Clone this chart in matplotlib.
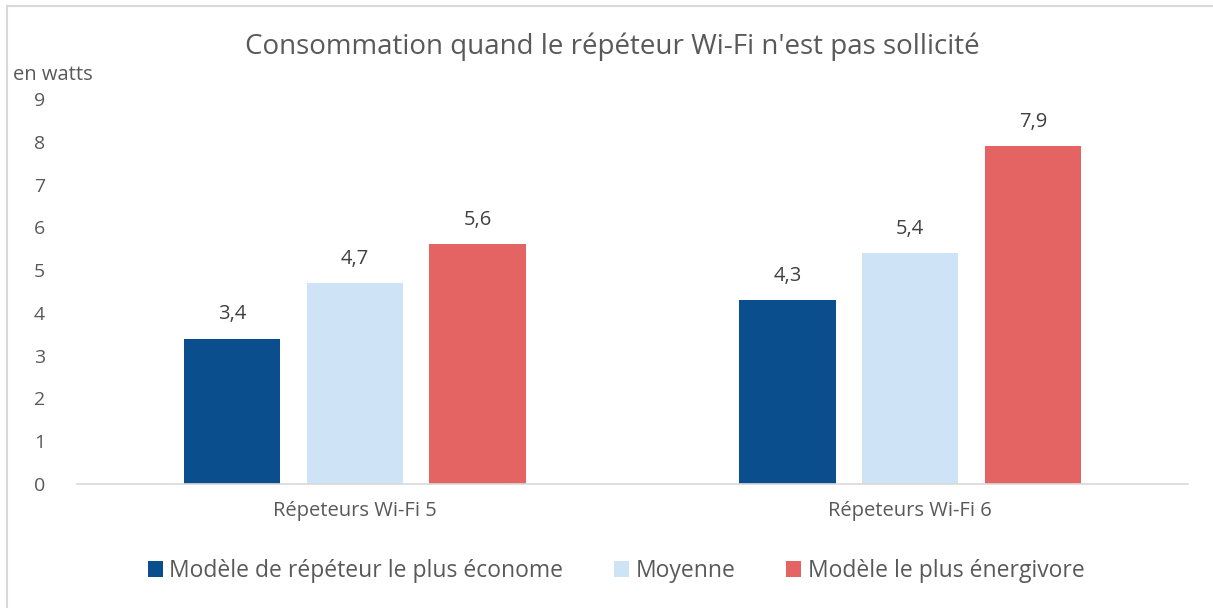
import matplotlib.pyplot as plt
import numpy as np
from matplotlib.lines import Line2D

plt.rcParams['font.family'] = ['Open Sans', 'DejaVu Sans']

categories = ['Répeteurs Wi-Fi 5', 'Répeteurs Wi-Fi 6']
series_names = ['Modèle de répéteur le plus économe', 'Moyenne',
                'Modèle le plus énergivore']
econome = [3.4, 4.3]
moyenne = [4.7, 5.4]
energivore = [5.6, 7.9]
colors = ['#0B4E8E', '#CFE3F6', '#E46464']
text_grey = '#595959'

W, H = 1213, 608
fig = plt.figure(figsize=(W / 100, H / 100), dpi=100)
ax = fig.add_axes([77 / W, 1 - 484 / H, (1188 - 77) / W, (484 - 99) / H])

x = np.arange(len(categories))
step = 0.221
width = 0.173
for i, (vals, name) in enumerate(zip([econome, moyenne, energivore], series_names)):
    bars = ax.bar(x + (i - 1) * step, vals, width, color=colors[i], label=name)
    for b, v in zip(bars, vals):
        ax.text(b.get_x() + b.get_width() / 2, v + 0.33, ('%.1f' % v).replace('.', ','),
                ha='center', va='bottom', fontsize=14.5, color='#404040')

ax.set_xlim(-0.5, 1.5)
ax.set_ylim(0, 9)
ax.set_yticks(range(10))
ax.set_xticks(x)
ax.set_xticklabels(categories)
ax.tick_params(axis='both', length=0, labelsize=14, labelcolor=text_grey)
ax.tick_params(axis='x', labelsize=14.5)
ax.tick_params(axis='y', pad=23)
ax.tick_params(axis='x', pad=12)
for s in ['top', 'right', 'left']:
    ax.spines[s].set_visible(False)
ax.spines['bottom'].set_color('#D9D9D9')
ax.spines['bottom'].set_linewidth(1.2)

fig.text(612 / W, 1 - 47 / H, "Consommation quand le répéteur Wi-Fi n'est pas sollicité",
         ha='center', va='center', fontsize=20, color=text_grey)
fig.text(13 / W, 1 - 75 / H, 'en watts', ha='left', va='center', fontsize=14.5,
         color=text_grey)

fig.legend(loc='center', bbox_to_anchor=(616 / W, 1 - 571 / H), ncol=3,
           frameon=False, fontsize=16.5, labelcolor=text_grey,
           handlelength=0.65, handleheight=0.65, handletextpad=0.3, columnspacing=2.2)

# chart border (Excel style)
fig.add_artist(Line2D([7 / W, 1], [1 - 6 / H, 1 - 6 / H], color='#D9D9D9', lw=1.5,
                      transform=fig.transFigure))
fig.add_artist(Line2D([7 / W, 7 / W], [0, 1 - 6 / H], color='#D9D9D9', lw=1.5,
                      transform=fig.transFigure))

fig.savefig('out.png', dpi=100)
